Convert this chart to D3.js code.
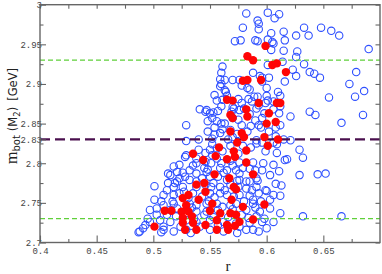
<!DOCTYPE html>
<html><head><meta charset="utf-8">
<script src="https://cdn.jsdelivr.net/npm/d3@7/dist/d3.min.js"></script>
<style>
html,body{margin:0;padding:0;background:#fff;}
svg{display:block;}
</style></head>
<body>
<svg id="chart" width="382" height="274"></svg>
<script>
// ---- data (r, m_bot) ----
const blueR = [0.582,0.601,0.611,0.607,0.592,0.593,0.579,0.593,0.615,0.604,0.633,0.637,0.648,0.657,0.664,0.626,0.572,0.577,0.590,0.592,0.601,0.605,0.606,0.616,0.604,0.615,0.627,0.626,0.690,0.601,0.614,0.633,0.561,0.560,0.588,0.594,0.596,0.602,0.623,0.626,0.616,0.638,0.642,0.647,0.679,0.563,0.570,0.576,0.578,0.559,0.563,0.583,0.596,0.673,0.686,0.678,0.655,0.554,0.564,0.561,0.560,0.575,0.584,0.587,0.600,0.601,0.612,0.592,0.547,0.541,0.553,0.570,0.569,0.593,0.612,0.621,0.638,0.643,0.685,
0.666,0.629,0.632,0.629,0.645,0.652,0.632,0.666,
0.559,0.560,0.556,0.589,0.599,0.606,0.550,0.546,0.571,0.576,0.580,0.591,0.606,0.598,0.611,0.529,0.548,0.552,0.556,0.560,0.563,0.554,0.561,0.554,0.559,0.568,0.575,0.590,0.593,0.586,0.608,0.602,0.608,0.606,0.529,0.540,0.552,0.591,0.570,0.574,
0.552,0.556,0.550,0.529,0.546,0.568,0.579,0.591,0.596,0.609,0.609,0.538,0.546,0.551,0.556,0.560,0.568,0.576,0.588,0.518,0.521,0.513,0.526,0.532,0.538,0.545,0.547,0.559,0.565,0.573,0.579,0.596,0.606,0.523,0.532,0.538,0.550,0.557,0.565,0.576,0.582,0.591,0.608,0.518,0.526,0.538,0.546,0.551,0.559,0.568,0.575,0.582,0.591,0.501,0.509,0.518,0.523,0.535,0.550,0.559,0.565,0.576,0.585,0.593,0.603,0.509,0.518,0.532,0.538,0.547,0.556,0.568,0.573,0.588,0.594,0.497,0.503,0.515,0.521,0.538,0.547,0.557,0.582,0.603,0.497,0.506,0.515,0.529,0.538,0.550,0.562,0.573,0.585,0.596,0.606,0.488,0.509,0.518,0.529,0.550,0.562,0.582,0.593,
0.501,0.491,0.509,0.512,0.515,0.513,0.521,0.523,0.528,0.538,0.588,0.576,0.591,0.588,0.590,0.585,0.576,0.487,
0.616,0.621,0.613,0.599,0.612,
0.503,0.507,0.512,0.517,0.520,0.524,0.527,0.531,0.534,0.536,0.541,0.543,0.545,0.549,0.553,0.554,0.557,0.561,0.563,0.566,0.570,0.571,0.574,0.578,0.580,0.584,0.587,0.590,0.592,0.595,0.598,0.600,
0.553,0.548,0.543,0.535,0.528,0.519,0.562,0.570,0.585,0.597,0.603,0.552,0.561,0.575,0.586,0.599,0.540,0.566,0.583,0.595,0.548,0.578,0.570,0.585,0.596,0.557,0.578,0.565,0.585,0.600,0.610,0.612,0.615,0.618,0.611,0.606,0.612,0.495,0.493,0.507,0.533,0.574,0.600];
const blueM = [2.989,2.990,2.988,2.983,2.980,2.976,2.971,2.969,2.966,2.964,2.971,2.961,2.971,2.967,2.961,2.961,2.954,2.955,2.955,2.954,2.956,2.953,2.951,2.955,2.943,2.942,2.941,2.934,2.944,2.924,2.928,2.925,2.922,2.914,2.914,2.910,2.908,2.908,2.918,2.910,2.903,2.915,2.913,2.908,2.915,2.905,2.905,2.905,2.898,2.897,2.892,2.895,2.903,2.900,2.891,2.884,2.883,2.886,2.890,2.880,2.872,2.881,2.881,2.878,2.885,2.879,2.885,2.884,2.867,2.868,2.864,2.871,2.865,2.873,2.872,2.859,2.865,2.861,2.861,
2.851,2.817,2.807,2.785,2.786,2.787,2.733,2.733,
2.906,2.900,2.879,2.884,2.876,2.878,2.863,2.865,2.869,2.867,2.869,2.869,2.868,2.863,2.863,2.848,2.853,2.857,2.853,2.850,2.850,2.845,2.843,2.836,2.838,2.842,2.855,2.854,2.848,2.847,2.845,2.840,2.834,2.826,2.828,2.830,2.831,2.829,2.833,2.837,
2.824,2.819,2.817,2.810,2.813,2.822,2.822,2.825,2.826,2.824,2.813,2.800,2.802,2.800,2.806,2.800,2.803,2.801,2.801,2.796,2.789,2.787,2.788,2.791,2.787,2.794,2.789,2.794,2.791,2.791,2.794,2.791,2.798,2.781,2.779,2.777,2.783,2.783,2.779,2.779,2.777,2.781,2.774,2.770,2.770,2.770,2.773,2.770,2.770,2.773,2.770,2.768,2.770,2.754,2.760,2.760,2.762,2.762,2.762,2.762,2.760,2.760,2.759,2.762,2.754,2.747,2.749,2.749,2.747,2.749,2.749,2.747,2.749,2.749,2.739,2.741,2.743,2.741,2.743,2.739,2.739,2.741,2.741,2.743,2.726,2.728,2.726,2.728,2.726,2.728,2.726,2.724,2.725,2.726,2.726,2.714,2.716,2.714,2.716,2.716,2.714,2.716,2.714,
2.771,2.718,2.720,2.735,2.785,2.775,2.777,2.798,2.808,2.806,2.716,2.720,2.733,2.754,2.791,2.777,2.787,2.713,
2.804,2.829,2.772,2.766,2.759,
2.735,2.752,2.766,2.752,2.733,2.720,2.764,2.756,2.744,2.730,2.720,2.758,2.735,2.752,2.732,2.757,2.722,2.745,2.766,2.732,2.742,2.758,2.778,2.735,2.752,2.731,2.766,2.744,2.778,2.752,2.730,2.765,
2.775,2.792,2.781,2.797,2.783,2.775,2.788,2.797,2.793,2.800,2.785,2.810,2.815,2.812,2.820,2.815,2.817,2.830,2.840,2.845,2.840,2.848,2.857,2.862,2.857,2.866,2.876,2.885,2.893,2.895,2.890,2.848,2.830,2.805,2.790,2.760,2.737,2.730,2.722,2.713,2.712,2.712,2.718];
const redR = [0.599,0.583,0.588,0.605,0.609,0.617,0.579,0.583,0.595,0.565,0.570,0.582,0.593,0.609,0.612,0.602,0.568,0.583,0.570,0.600,0.608,0.568,0.578,0.580,0.598,0.574,0.610,
0.535,0.544,0.555,0.558,0.571,0.565,0.572,0.582,0.582,0.601,0.554,0.567,0.588,0.538,0.545,0.546,0.531,0.526,0.571,0.573,0.540,0.552,0.569,0.579,0.598,0.510,0.516,0.525,0.529,0.531,0.526,0.534,0.550,0.559,0.568,0.573,0.576,0.588,0.526,0.535,0.546,0.556,0.565,0.572,0.501,0.528,0.538,0.556,0.566];
const redM = [2.948,2.935,2.930,2.924,2.926,2.915,2.904,2.905,2.905,2.880,2.879,2.868,2.876,2.876,2.876,2.863,2.861,2.859,2.857,2.850,2.852,2.840,2.838,2.833,2.833,2.826,2.830,
2.812,2.804,2.809,2.820,2.815,2.805,2.808,2.816,2.801,2.822,2.786,2.781,2.786,2.773,2.775,2.764,2.760,2.756,2.770,2.767,2.754,2.749,2.754,2.745,2.748,2.740,2.740,2.739,2.747,2.739,2.731,2.733,2.740,2.737,2.737,2.735,2.726,2.729,2.725,2.725,2.722,2.728,2.722,2.721,2.720,2.716,2.716,2.716,2.716];
const refLevels = [2.93, 2.83, 2.73];
const refKinds  = ["band", "central", "band"];
const xMajor = [0.4, 0.45, 0.5, 0.55, 0.6, 0.65];
const xLabels = ["0.4", "0.45", "0.5", "0.55", "0.6", "0.65"];
const xMinor = [0.425, 0.475, 0.525, 0.575, 0.625, 0.675];
const yMajor = [2.7, 2.75, 2.8, 2.83, 2.85, 2.9, 2.95, 3.0];
const yLabels = ["2.7", "2.75", "2.8", "2.83", "2.85", "2.9", "2.95", "3"];
const yMinor = [2.725, 2.775, 2.825, 2.875, 2.925, 2.975];

// ---- layout ----
const L = 40, R = 380, T = 4.7, B = 242.5;
const svg = d3.select("#chart");
const x = d3.scaleLinear().domain([0.4, 0.7]).range([L, R]);
const y = d3.scaleLinear().domain([2.7, 3.0]).range([B, T]);

const blue = blueR.map((r, i) => ({r, m: blueM[i]}));
const red = redR.map((r, i) => ({r, m: redM[i]}));

svg.append("clipPath").attr("id", "clip").append("rect")
  .attr("x", L).attr("y", T).attr("width", R - L).attr("height", B - T);
const plot = svg.append("g").attr("clip-path", "url(#clip)");

plot.selectAll("circle.b").data(blue).join("circle").attr("class", "b")
  .attr("cx", d => x(d.r)).attr("cy", d => y(d.m)).attr("r", 3.7)
  .attr("fill", "none").attr("stroke", "#2f50ff").attr("stroke-width", 1.1);

plot.selectAll("line.ref").data(refLevels).join("line").attr("class", "ref")
  .attr("x1", L).attr("x2", R).attr("y1", d => y(d)).attr("y2", d => y(d))
  .attr("stroke", (d, i) => refKinds[i] === "central" ? "#4a0f4e" : "#5fd03a")
  .attr("stroke-width", (d, i) => refKinds[i] === "central" ? 2.2 : 1.3)
  .attr("stroke-dasharray", (d, i) => refKinds[i] === "central" ? "10,5" : "5,3");

plot.selectAll("circle.rf").data(red).join("circle").attr("class", "rf")
  .attr("cx", d => x(d.r)).attr("cy", d => y(d.m)).attr("r", 4.2)
  .attr("fill", "#ff0505");

// ---- axes ----
const axisColor = "#666";
function styleAxis(g) {
  g.select(".domain").remove();
  g.selectAll(".tick line").attr("stroke", axisColor).attr("stroke-width", 1.1);
  g.selectAll("text").attr("fill", "#444")
    .style("font-family", "'Liberation Mono', 'DejaVu Sans Mono', monospace")
    .style("font-size", "9px");
}
svg.append("g").attr("transform", `translate(0,${B})`)
  .call(d3.axisBottom(x).tickValues(xMajor).tickSize(-7).tickPadding(5)
    .tickFormat((d, i) => xLabels[i]))
  .call(styleAxis);
svg.append("g").attr("transform", `translate(0,${B})`)
  .call(d3.axisBottom(x).tickValues(xMinor).tickSize(-3.5).tickFormat(""))
  .call(styleAxis);
svg.append("g").attr("transform", `translate(0,${T})`)
  .call(d3.axisTop(x).tickValues(xMajor.concat(xMinor)).tickSize(-4).tickFormat(""))
  .call(styleAxis);
svg.append("g").attr("transform", `translate(${L},0)`)
  .call(d3.axisLeft(y).tickValues(yMajor).tickSize(-6).tickPadding(-2)
    .tickFormat((d, i) => yLabels[i]))
  .call(styleAxis);
svg.append("g").attr("transform", `translate(${L},0)`)
  .call(d3.axisLeft(y).tickValues(yMinor).tickSize(-3.5).tickFormat(""))
  .call(styleAxis);
svg.append("g").attr("transform", `translate(${R},0)`)
  .call(d3.axisRight(y).tickValues(yMajor.filter(v => v !== 2.83).concat(yMinor)).tickSize(-4.5).tickFormat(""))
  .call(styleAxis);

svg.append("rect").attr("x", L).attr("y", T).attr("width", R - L).attr("height", B - T)
  .attr("fill", "none").attr("stroke", axisColor).attr("stroke-width", 1.4);

// ---- titles ----
svg.append("text").attr("x", 228).attr("y", 271).attr("text-anchor", "middle")
  .style("font-family", "'Liberation Serif', 'DejaVu Serif', serif").style("font-size", "15px")
  .attr("fill", "#222").text("r");

const yt = svg.append("text").attr("transform", "translate(17,116) rotate(-90)")
  .attr("text-anchor", "middle").attr("fill", "#222")
  .style("font-family", "'DejaVu Sans', sans-serif").style("font-size", "11.5px");
yt.append("tspan").style("font-family", "'Liberation Serif', serif").style("font-size", "16px").text("m");
yt.append("tspan").attr("dy", 3).style("font-size", "10px").text("bot");
yt.append("tspan").attr("dy", -3).attr("dx", 4).text("(M");
yt.append("tspan").attr("dy", 3).style("font-size", "8.5px").text("2");
yt.append("tspan").attr("dy", -3).text(")");
yt.append("tspan").attr("dx", 6).text("[GeV]");
</script>
</body></html>
